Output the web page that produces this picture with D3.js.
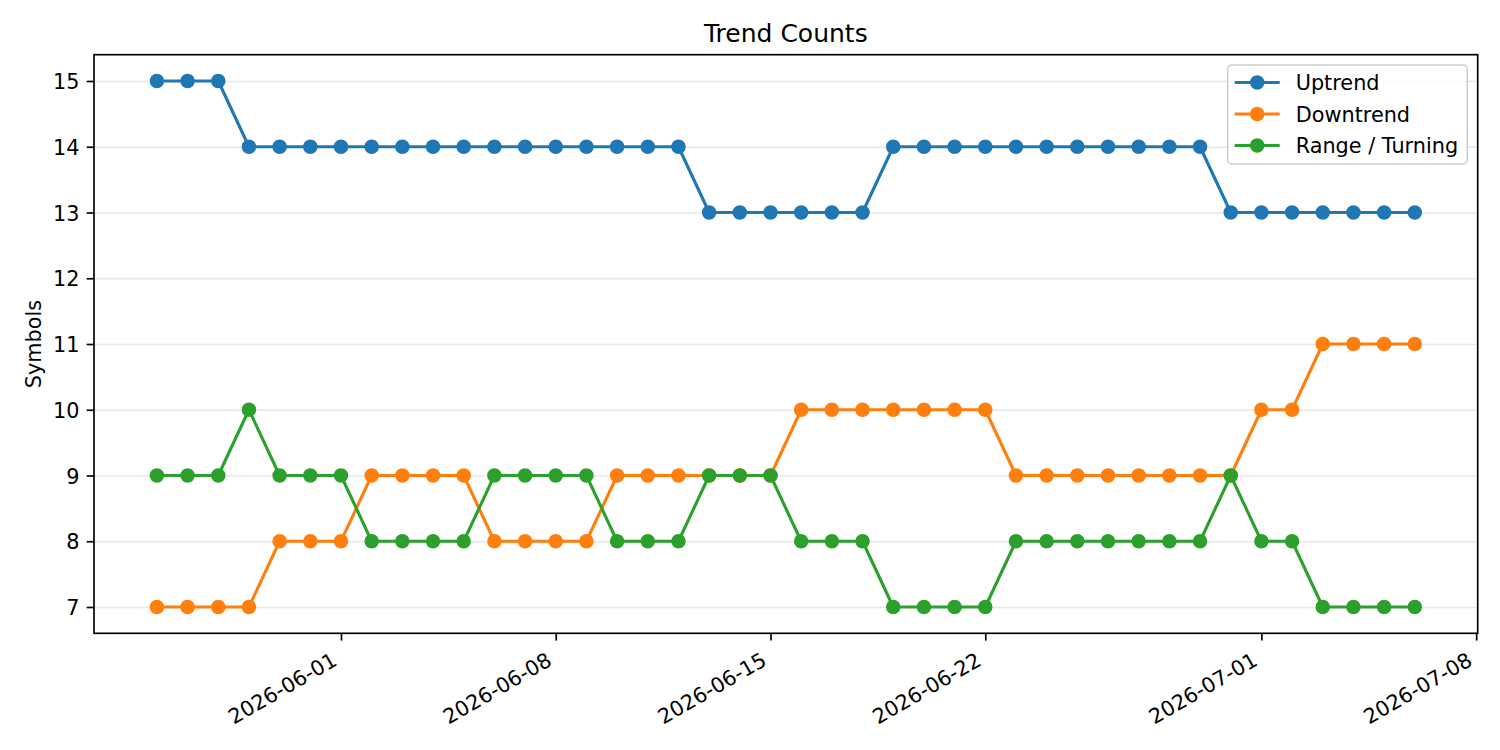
<!DOCTYPE html>
<html>
<head>
<meta charset="utf-8">
<script src="https://cdn.jsdelivr.net/npm/d3@7"></script>
<style>
  body { margin: 0; background: #fff; }
  svg text { font-family: "DejaVu Sans", sans-serif; fill: #000; }
</style>
</head>
<body>
<div id="wrapper"></div>
<script>
//1_Data
const dates = [
  "2026-05-26", "2026-05-27", "2026-05-28", "2026-05-29", "2026-05-30", "2026-05-31",
  "2026-06-01", "2026-06-02", "2026-06-03", "2026-06-04", "2026-06-05", "2026-06-06",
  "2026-06-07", "2026-06-08", "2026-06-09", "2026-06-10", "2026-06-11", "2026-06-12",
  "2026-06-13", "2026-06-14", "2026-06-15", "2026-06-16", "2026-06-17", "2026-06-18",
  "2026-06-19", "2026-06-20", "2026-06-21", "2026-06-22", "2026-06-23", "2026-06-24",
  "2026-06-25", "2026-06-26", "2026-06-27", "2026-06-28", "2026-06-29", "2026-06-30",
  "2026-07-01", "2026-07-02", "2026-07-03", "2026-07-04", "2026-07-05", "2026-07-06",
]
const uptrend = [
  15, 15, 15, 14, 14, 14, 14, 14, 14, 14, 14, 14, 14, 14,
  14, 14, 14, 14, 13, 13, 13, 13, 13, 13, 14, 14, 14, 14,
  14, 14, 14, 14, 14, 14, 14, 13, 13, 13, 13, 13, 13, 13,
]
const downtrend = [
  7, 7, 7, 7, 8, 8, 8, 9, 9, 9, 9, 8, 8, 8,
  8, 9, 9, 9, 9, 9, 9, 10, 10, 10, 10, 10, 10, 10,
  9, 9, 9, 9, 9, 9, 9, 9, 10, 10, 11, 11, 11, 11,
]
const rangeTurning = [
  9, 9, 9, 10, 9, 9, 9, 8, 8, 8, 8, 9, 9, 9,
  9, 8, 8, 8, 9, 9, 9, 8, 8, 8, 7, 7, 7, 7,
  8, 8, 8, 8, 8, 8, 8, 9, 8, 8, 7, 7, 7, 7,
]
const seriesNames = ["Uptrend", "Downtrend", "Range / Turning"]
const seriesColors = ["#1f77b4", "#ff7f0e", "#2ca02c"]
const xTickLabels = ["2026-06-01", "2026-06-08", "2026-06-15", "2026-06-22", "2026-07-01", "2026-07-08"]
const yTickValues = [7, 8, 9, 10, 11, 12, 13, 14, 15]

function drawLineChart() {
  const dateParser = d3.utcParse("%Y-%m-%d")
  const formatDate = d3.utcFormat("%Y-%m-%d")
  const allSeries = [uptrend, downtrend, rangeTurning].map((values, i) => ({
    name: seriesNames[i],
    color: seriesColors[i],
    points: values.map((v, j) => ({date: dateParser(dates[j]), value: v})),
  }))
  const xAccessor = d => d.date
  const yAccessor = d => d.value

  //2_Dimensions
  let dimensions = {
    width: 1500,
    height: 750,
    margin: {top: 54.7, right: 22.3, bottom: 116.7, left: 94},
  }
  dimensions.boundedWidth = dimensions.width - dimensions.margin.left - dimensions.margin.right
  dimensions.boundedHeight = dimensions.height - dimensions.margin.top - dimensions.margin.bottom

  //3_Canvas
  const wrapper = d3.select("#wrapper")
    .append("svg")
    .attr("width", dimensions.width)
    .attr("height", dimensions.height)

  const bounds = wrapper.append("g")
    .attr("transform", `translate(${dimensions.margin.left},${dimensions.margin.top})`)

  //4_Scales (matplotlib-style 5% margins)
  const xExtent = d3.extent(allSeries[0].points, xAccessor)
  const xPad = (xExtent[1] - xExtent[0]) * 0.05
  const xScale = d3.scaleUtc()
    .domain([new Date(+xExtent[0] - xPad), new Date(+xExtent[1] + xPad)])
    .range([0, dimensions.boundedWidth])

  const yMin = d3.min(allSeries, s => d3.min(s.points, yAccessor))
  const yMax = d3.max(allSeries, s => d3.max(s.points, yAccessor))
  const yPad = (yMax - yMin) * 0.05
  const yScale = d3.scaleLinear()
    .domain([yMin - yPad, yMax + yPad])
    .range([dimensions.boundedHeight, 0])

  //5_Grid
  const yGridGenerator = d3.axisLeft(yScale)
    .tickValues(yTickValues)
    .tickSize(-dimensions.boundedWidth)
    .tickFormat("")
  const yGrid = bounds.append("g").call(yGridGenerator)
  yGrid.select(".domain").remove()
  yGrid.selectAll("line").attr("stroke", "#e8e8e8").attr("stroke-width", 1.6)

  //6_Lines and markers
  const lineGenerator = d3.line()
    .x(d => xScale(xAccessor(d)))
    .y(d => yScale(yAccessor(d)))

  allSeries.forEach(s => {
    const g = bounds.append("g")
    g.append("path")
      .attr("d", lineGenerator(s.points))
      .attr("fill", "none")
      .attr("stroke", s.color)
      .attr("stroke-width", 3.1)
      .attr("stroke-linejoin", "round")
    g.selectAll("circle")
      .data(s.points)
      .join("circle")
      .attr("cx", d => xScale(xAccessor(d)))
      .attr("cy", d => yScale(yAccessor(d)))
      .attr("r", 6.25)
      .attr("fill", s.color)
      .attr("stroke", s.color)
      .attr("stroke-width", 2)
  })

  //7_Axes
  const xAxisGenerator = d3.axisBottom(xScale)
    .tickValues(xTickLabels.map(dateParser))
    .tickSize(7.3)
    .tickSizeOuter(0)
    .tickFormat(formatDate)
  const xAxis = bounds.append("g")
    .attr("transform", `translate(0,${dimensions.boundedHeight})`)
    .call(xAxisGenerator)
  xAxis.select(".domain").remove()
  xAxis.selectAll(".tick line").attr("stroke", "#000").attr("stroke-width", 1.67)
  xAxis.selectAll(".tick text")
    .attr("y", null)
    .attr("dy", null)
    .attr("text-anchor", "end")
    .attr("transform", "translate(-3,31) rotate(-30)")
    .style("font-size", "20.8px")

  const yAxisGenerator = d3.axisLeft(yScale)
    .tickValues(yTickValues)
    .tickSize(7.3)
    .tickPadding(7.3)
    .tickSizeOuter(0)
  const yAxis = bounds.append("g").call(yAxisGenerator)
  yAxis.select(".domain").remove()
  yAxis.selectAll(".tick line").attr("stroke", "#000").attr("stroke-width", 1.67)
  yAxis.selectAll(".tick text")
    .attr("dy", "0.36em")
    .style("font-size", "20.8px")

  // frame
  bounds.append("rect")
    .attr("width", dimensions.boundedWidth)
    .attr("height", dimensions.boundedHeight)
    .attr("fill", "none")
    .attr("stroke", "#000")
    .attr("stroke-width", 1.67)

  //8_Labels
  wrapper.append("text")
    .attr("x", dimensions.margin.left + dimensions.boundedWidth / 2)
    .attr("y", 42.2)
    .attr("text-anchor", "middle")
    .style("font-size", "25px")
    .text("Trend Counts")

  wrapper.append("text")
    .attr("transform", `translate(41,${dimensions.margin.top + dimensions.boundedHeight / 2}) rotate(-90)`)
    .attr("text-anchor", "middle")
    .style("font-size", "20.8px")
    .text("Symbols")

  //9_Legend
  const legend = bounds.append("g")
    .attr("transform", `translate(${dimensions.boundedWidth - 250},${10.3})`)
  legend.append("rect")
    .attr("width", 239.5)
    .attr("height", 99)
    .attr("rx", 4)
    .attr("fill", "#fff")
    .attr("fill-opacity", 0.8)
    .attr("stroke", "#cccccc")
    .attr("stroke-width", 1.5)
  allSeries.forEach((s, i) => {
    const row = legend.append("g")
      .attr("transform", `translate(0,${17.5 + i * 31.5})`)
    row.append("line")
      .attr("x1", 7).attr("x2", 52)
      .attr("stroke", s.color)
      .attr("stroke-width", 3.1)
    row.append("circle")
      .attr("cx", 29.5)
      .attr("r", 6.25)
      .attr("fill", s.color)
      .attr("stroke", s.color)
      .attr("stroke-width", 2)
    row.append("text")
      .attr("x", 68)
      .attr("dy", "0.36em")
      .style("font-size", "20.8px")
      .text(s.name)
  })
}
drawLineChart()
</script>
</body>
</html>
